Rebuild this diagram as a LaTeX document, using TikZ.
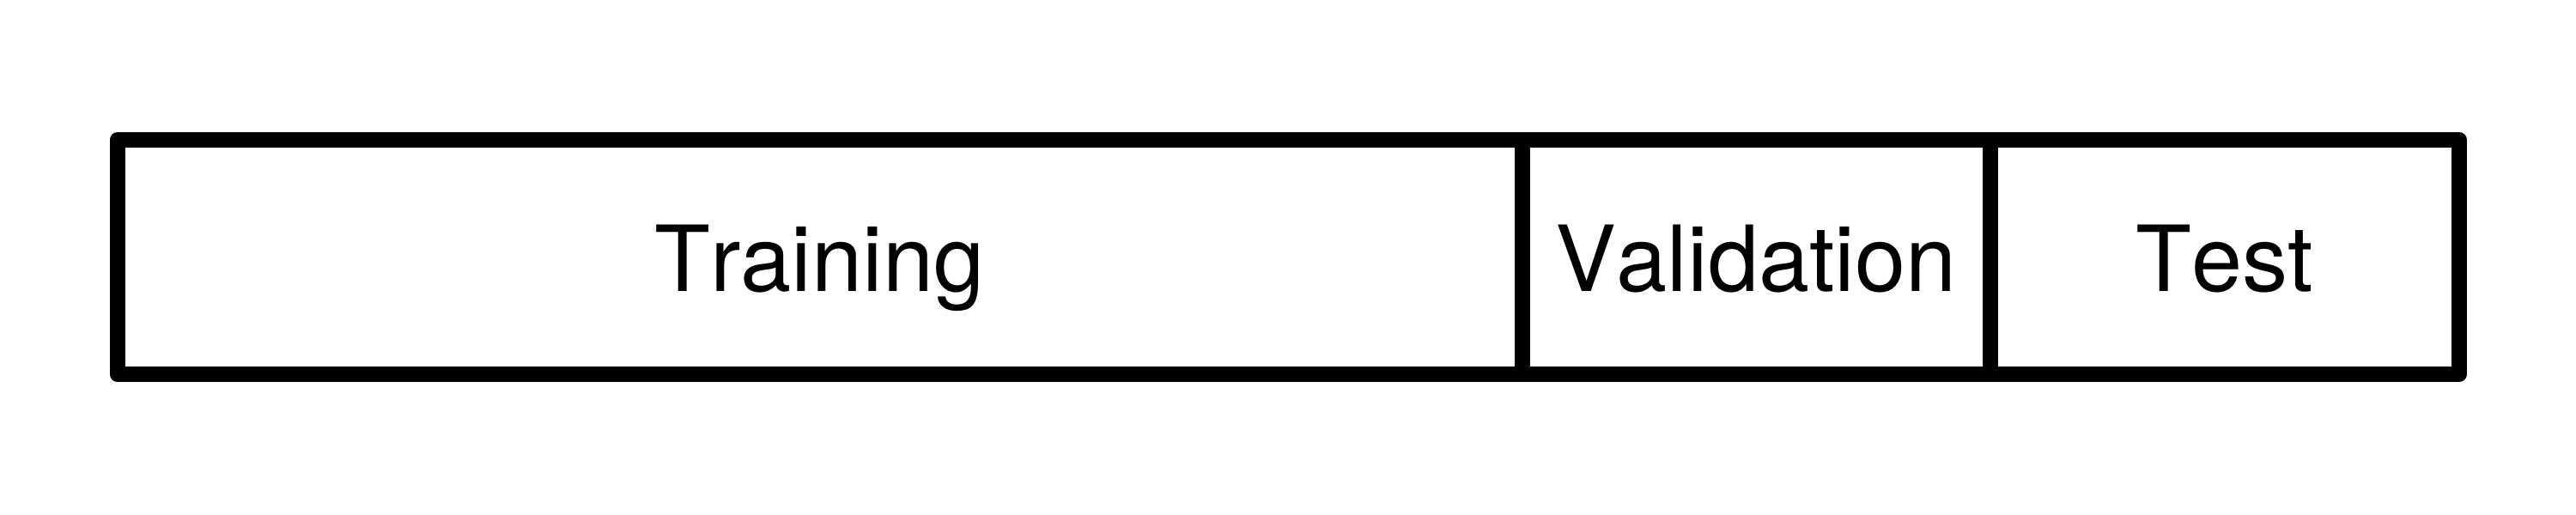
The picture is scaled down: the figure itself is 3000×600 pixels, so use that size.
\documentclass[tikz,border=0pt]{standalone}
\usepackage{fontspec}
\setmainfont[Kerning=Off]{TeX Gyre Heros}
\begin{document}
\begin{tikzpicture}[x=1bp,y=-1bp,
  frame/.style={draw=black, line width=18bp, line join=round},
  divider/.style={draw=black, line width=18bp, line cap=butt},
  celltext/.style={anchor=base, inner sep=0pt, font=\fontsize{106.3bp}{120bp}\selectfont}]
\useasboundingbox (0,0) rectangle (3000,600);
\coordinate (nw) at (136.5,163);
\coordinate (se) at (2864,436);
\coordinate (d1t) at (1772.5,163);
\coordinate (d1b) at (1772.5,436);
\coordinate (d2t) at (2318,163);
\coordinate (d2b) at (2318,436);
\path[frame] (nw) rectangle (se);
\path[divider] (d1t) -- (d1b);
\path[divider] (d2t) -- (d2b);
\node[celltext] (train) at (954.5,339) {Training};
\node[celltext] (valid) at (2045.25,339) {Validation};
\node[celltext] (test) at (2591,339) {Test};
\end{tikzpicture}
\end{document}
